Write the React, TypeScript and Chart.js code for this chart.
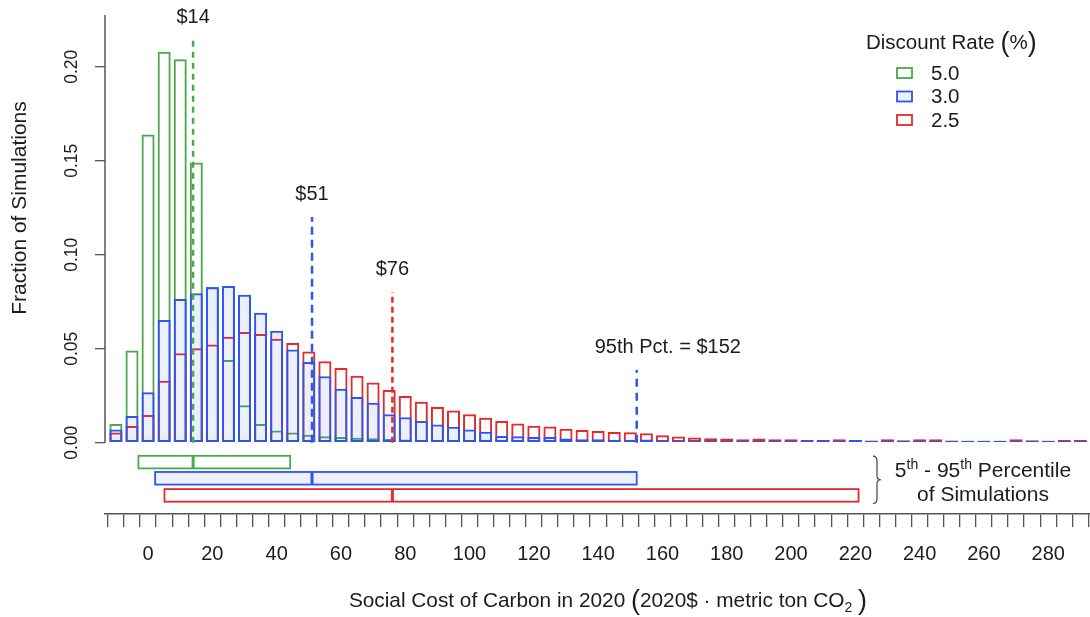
import React, { useEffect, useRef } from 'react';
import { Chart, registerables } from 'chart.js';

Chart.register(...registerables);

// ---------- DATA ----------
const binCenters = [
  -10, -5, 0, 5, 10, 15, 20, 25, 30, 35, 40, 45, 50, 55, 60, 65, 70, 75, 80, 85,
  90, 95, 100, 105, 110, 115, 120, 125, 130, 135, 140, 145, 150, 155, 160, 165, 170, 175, 180, 185,
  190, 195, 200, 205, 210, 215, 220, 225, 230, 235, 240, 245, 250, 255, 260, 265, 270, 275, 280, 285, 290,
];

const seriesNames = ['5.0', '3.0', '2.5'];

const frac50 = [
  0.010, 0.049, 0.164, 0.208, 0.204, 0.149, 0.083, 0.044, 0.020, 0.010,
  0.0065, 0.0055, 0.0043, 0.0034, 0.0030, 0.0027, 0.0024, 0.0020, 0.0017, 0.0015,
  0.0014, 0.0013, 0.0012, 0.0011, 0.0010, 0.0010, 0.0009, 0.0009, 0.0008, 0.0008,
  0.0008, 0.0007, 0.0007, 0.0007, 0.0006, 0.0006, 0.0006, 0.0005, 0.0005, 0.0005,
  0.0005, 0.0004, 0.0004, 0.0004, 0.0004, 0.0004, 0.0003, 0.0003, 0.0003, 0.0003,
  0.0003, 0.0003, 0.0003, 0.0002, 0.0002, 0.0002, 0.0002, 0.0002, 0.0002, 0.0002, 0.0002,
];

const frac30 = [
  0.0071, 0.0142, 0.0268, 0.0653, 0.0764, 0.0795, 0.0827, 0.0834, 0.0787, 0.0692,
  0.0595, 0.0496, 0.0429, 0.0353, 0.0287, 0.0243, 0.0213, 0.0151, 0.0136, 0.0115,
  0.0097, 0.0085, 0.0071, 0.0059, 0.0036, 0.0034, 0.0031, 0.0030, 0.0023, 0.0019,
  0.0018, 0.0016, 0.0016, 0.0017, 0.0013, 0.0012, 0.0011, 0.0011, 0.0010, 0.0010,
  0.0010, 0.0010, 0.0010, 0.0013, 0.0013, 0.0011, 0.0014, 0.0010, 0.0010, 0.0010,
  0.0010, 0.0010, 0.0010, 0.0010, 0.0010, 0.0010, 0.0010, 0.0010, 0.0010, 0.0010, 0.0010,
];

const frac25 = [
  0.0055, 0.0089, 0.0147, 0.0330, 0.0476, 0.0502, 0.0523, 0.0564, 0.0589, 0.0578,
  0.0553, 0.0530, 0.0485, 0.0434, 0.0397, 0.0356, 0.0320, 0.0281, 0.0249, 0.0218,
  0.0190, 0.0172, 0.0151, 0.0133, 0.0115, 0.0103, 0.0090, 0.0087, 0.0075, 0.0068,
  0.0062, 0.0057, 0.0056, 0.0050, 0.0040, 0.0033, 0.0028, 0.0024, 0.0023, 0.0019,
  0.0023, 0.0019, 0.0018, 0.0015, 0.0015, 0.0019, 0.0014, 0.0012, 0.0019, 0.0013,
  0.0018, 0.0019, 0.0012, 0.0011, 0.0011, 0.0011, 0.0018, 0.0013, 0.0011, 0.0014, 0.0014,
];

// 5th / median / 95th percentiles per discount rate (5.0, 3.0, 2.5)
const pct05 = [-3.0, 2.2, 5.1];
const pctMedian = [14, 51, 76];
const pct95 = [44.2, 152, 221];

// dashed marker lines: value and height (fraction)
const markerValues = [14, 51, 76, 152];
const markerTops = [0.214, 0.12, 0.08, 0.0387];
const markerLabels = ['$14', '$51', '$76', '95th Pct. = $152'];

const xTickLabels = [0, 20, 40, 60, 80, 100, 120, 140, 160, 180, 200, 220, 240, 260, 280];
const yTickValues = [0, 0.05, 0.1, 0.15, 0.2];

// ---------- STYLE ----------
const FONT = '"Liberation Sans", Arial, Helvetica, sans-serif';
const GREEN = 'rgb(72,170,72)';
const BLUE = 'rgb(45,85,242)';
const RED = 'rgb(228,42,42)';
const BLUE_FILL = 'rgba(70,100,235,0.10)';
const BLUE_FILL_SOLID = 'rgb(238,241,253)';
const TEXT = '#1c1c1c';
const AXIS = '#555';

const X_MIN = -13.4;
const X_MAX = 293;

type Run = { text: string; size: number; dy?: number };

function drawRuns(ctx: CanvasRenderingContext2D, runs: Run[], cx: number, baseline: number, align: 'center' | 'left' = 'center') {
  let total = 0;
  for (const r of runs) {
    ctx.font = `${r.size}px ${FONT}`;
    total += ctx.measureText(r.text).width;
  }
  let x = align === 'center' ? cx - total / 2 : cx;
  ctx.textAlign = 'left';
  ctx.textBaseline = 'alphabetic';
  for (const r of runs) {
    ctx.font = `${r.size}px ${FONT}`;
    ctx.fillText(r.text, x, baseline + (r.dy || 0));
    x += ctx.measureText(r.text).width;
  }
}

const colors = [GREEN, BLUE, RED];
const rowValues = [-0.0103, -0.0189, -0.028];

const overlayPlugin = {
  id: 'overlay',
  afterDraw(chart: any) {
    const ctx: CanvasRenderingContext2D = chart.ctx;
    const xs = chart.scales.x;
    const ys = chart.scales.y;
    const area = chart.chartArea;
    ctx.save();

    // y axis line
    ctx.strokeStyle = AXIS;
    ctx.lineWidth = 1.5;
    ctx.beginPath();
    ctx.moveTo(area.left, ys.getPixelForValue(0));
    ctx.lineTo(area.left, area.top);
    ctx.stroke();

    // marker labels
    ctx.fillStyle = TEXT;
    markerLabels.forEach((lab, i) => {
      const px = xs.getPixelForValue(markerValues[i]);
      const py = ys.getPixelForValue(markerTops[i]) - 17;
      ctx.font = `20px ${FONT}`;
      ctx.textBaseline = 'alphabetic';
      if (i === 3) {
        ctx.textAlign = 'left';
        ctx.fillText(lab, px - 42, py);
      } else {
        ctx.textAlign = 'center';
        ctx.fillText(lab, px, py);
      }
    });

    // percentile boxes
    const halfH = 6.3;
    for (let i = 0; i < 3; i++) {
      const x0 = xs.getPixelForValue(pct05[i]);
      const x1 = xs.getPixelForValue(pct95[i]);
      const yc = ys.getPixelForValue(rowValues[i]);
      ctx.fillStyle = i === 1 ? BLUE_FILL_SOLID : '#ffffff';
      ctx.fillRect(x0, yc - halfH, x1 - x0, halfH * 2);
      ctx.strokeStyle = colors[i];
      ctx.lineWidth = 1.8;
      ctx.strokeRect(x0, yc - halfH, x1 - x0, halfH * 2);
      const xm = xs.getPixelForValue(pctMedian[i]);
      ctx.lineWidth = 3;
      ctx.beginPath();
      ctx.moveTo(xm, yc - halfH);
      ctx.lineTo(xm, yc + halfH);
      ctx.stroke();
    }

    // brace
    const bx = 873;
    const bTop = ys.getPixelForValue(rowValues[0]) - 6;
    const bBot = ys.getPixelForValue(rowValues[2]) + 8;
    const bMid = (bTop + bBot) / 2;
    ctx.strokeStyle = '#444';
    ctx.lineWidth = 1.2;
    ctx.beginPath();
    ctx.moveTo(bx, bTop);
    ctx.quadraticCurveTo(bx + 4, bTop, bx + 4, bTop + 5);
    ctx.lineTo(bx + 4, bMid - 4);
    ctx.quadraticCurveTo(bx + 4, bMid, bx + 8, bMid);
    ctx.quadraticCurveTo(bx + 4, bMid, bx + 4, bMid + 4);
    ctx.lineTo(bx + 4, bBot - 5);
    ctx.quadraticCurveTo(bx + 4, bBot, bx, bBot);
    ctx.stroke();

    ctx.fillStyle = TEXT;
    drawRuns(ctx, [
      { text: '5', size: 21 },
      { text: 'th', size: 14, dy: -8 },
      { text: ' - 95', size: 21 },
      { text: 'th', size: 14, dy: -8 },
      { text: ' Percentile', size: 21 },
    ], 983, bMid - 3);
    drawRuns(ctx, [{ text: 'of Simulations', size: 21 }], 983, bMid + 21);

    // legend
    const lx = 866;
    drawRuns(ctx, [
      { text: 'Discount Rate ', size: 20.5 },
      { text: '(', size: 27, dy: 2 },
      { text: '%', size: 20.5 },
      { text: ')', size: 27, dy: 2 },
    ], lx, 49, 'left');
    const legY = [73, 96.5, 120];
    for (let i = 0; i < 3; i++) {
      ctx.fillStyle = i === 1 ? BLUE_FILL_SOLID : '#ffffff';
      ctx.fillRect(897, legY[i] - 5, 15, 10);
      ctx.strokeStyle = colors[i];
      ctx.lineWidth = 1.8;
      ctx.strokeRect(897, legY[i] - 5, 15, 10);
      ctx.fillStyle = TEXT;
      ctx.font = `20.5px ${FONT}`;
      ctx.textAlign = 'left';
      ctx.textBaseline = 'middle';
      ctx.fillText(seriesNames[i], 931, legY[i] + 1);
    }

    // axis titles
    ctx.fillStyle = TEXT;
    drawRuns(ctx, [
      { text: 'Social Cost of Carbon in 2020 ', size: 20.8 },
      { text: '(', size: 27, dy: 2 },
      { text: '2020$ · metric ton CO', size: 20.8 },
      { text: '2', size: 14, dy: 5 },
      { text: ' ', size: 20.8 },
      { text: ')', size: 27, dy: 2 },
    ], 608, 607);

    ctx.save();
    ctx.translate(20, 208);
    ctx.rotate(-Math.PI / 2);
    ctx.font = `21px ${FONT}`;
    ctx.textAlign = 'center';
    ctx.textBaseline = 'middle';
    ctx.fillText('Fraction of Simulations', 0, 0);
    ctx.restore();

    ctx.restore();
  },
};

function App() {
  const ref = useRef<HTMLCanvasElement | null>(null);

  useEffect(() => {
    const canvas = ref.current;
    if (!canvas) return;
    document.body.style.margin = '0';

    const binEdges = binCenters.map((c) => c - 2.5).concat([binCenters[binCenters.length - 1] + 2.5]);

    const barCommon = {
      type: 'bar' as const,
      grouped: false,
      barPercentage: 0.81,
      categoryPercentage: 1,
      borderWidth: 2,
      borderSkipped: false as const,
    };

    const markerColors = [GREEN, BLUE, RED, BLUE];
    const markerDash = [[6, 5], [8, 5], [6, 4], [8, 6]];

    const lineSets = markerValues.map((v, i) => ({
      type: 'line' as const,
      label: 'marker' + i,
      data: [{ x: v, y: 0 }, { x: v, y: markerTops[i] }],
      borderColor: markerColors[i],
      borderWidth: 2.5,
      borderDash: markerDash[i],
      pointRadius: 0,
      fill: false,
      order: 0,
    }));

    const chart = new Chart(canvas, {
      type: 'bar',
      data: {
        datasets: [
          {
            ...barCommon,
            label: seriesNames[0],
            data: binCenters.map((x, i) => ({ x, y: frac50[i] })),
            backgroundColor: 'rgba(0,0,0,0)',
            borderColor: GREEN,
            order: 3,
          },
          {
            ...barCommon,
            label: seriesNames[2],
            data: binCenters.map((x, i) => ({ x, y: frac25[i] })),
            backgroundColor: 'rgba(0,0,0,0)',
            borderColor: RED,
            order: 2,
          },
          {
            ...barCommon,
            label: seriesNames[1],
            data: binCenters.map((x, i) => ({ x, y: frac30[i] })),
            backgroundColor: BLUE_FILL,
            borderColor: BLUE,
            order: 1,
          },
          ...lineSets,
        ] as any,
      },
      options: {
        responsive: false,
        animation: false,
        layout: { padding: { top: 15, left: 0, right: 0, bottom: 0 } },
        plugins: {
          legend: { display: false },
          tooltip: { enabled: false },
          title: { display: false },
        },
        scales: {
          x: {
            type: 'linear',
            min: X_MIN,
            max: X_MAX,
            position: 'bottom',
            offset: false,
            weight: 0,
            grid: { display: true, offset: false, drawOnChartArea: false, drawTicks: true, tickLength: 13, color: '#555', lineWidth: 1.3 },
            border: { display: true, color: AXIS, width: 1.5 },
            ticks: { display: false },
            afterBuildTicks: (s: any) => {
              s.ticks = binEdges.map((v) => ({ value: v }));
            },
            afterFit: (s: any) => {
              s.paddingLeft = 0;
              s.paddingRight = 0;
            },
          },
          x2: {
            type: 'linear',
            min: X_MIN,
            max: X_MAX,
            position: 'bottom',
            offset: false,
            weight: 1,
            grid: { display: false, offset: false },
            border: { display: false },
            ticks: {
              display: true,
              autoSkip: false,
              maxRotation: 0,
              minRotation: 0,
              padding: 7,
              color: TEXT,
              font: { family: FONT, size: 20 },
              callback: (v: any) => String(v),
            },
            afterBuildTicks: (s: any) => {
              s.ticks = xTickLabels.map((v) => ({ value: v }));
            },
            afterFit: (s: any) => {
              s.height = 90;
              s.paddingLeft = 0;
              s.paddingRight = 0;
            },
          },
          y: {
            type: 'linear',
            min: -0.0379,
            max: 0.2275,
            position: 'left',
            grid: { display: true, drawOnChartArea: false, drawTicks: true, tickLength: 10, color: '#555', lineWidth: 1.3 },
            border: { display: false },
            ticks: {
              autoSkip: false,
              minRotation: 90,
              maxRotation: 90,
              crossAlign: 'center',
              padding: 6,
              color: TEXT,
              font: { family: FONT, size: 17.5 },
              callback: (v: any) => Number(v).toFixed(2),
            },
            afterBuildTicks: (s: any) => {
              s.ticks = yTickValues.map((v) => ({ value: v }));
            },
            afterFit: (s: any) => {
              s.width = 105;
              s.paddingTop = 0;
              s.paddingBottom = 0;
            },
          },
        },
      } as any,
      plugins: [overlayPlugin],
    });

    return () => {
      chart.destroy();
    };
  }, []);

  return (
    <div style={{ position: 'absolute', left: 0, top: 0, width: 1090, height: 617, background: '#fff' }}>
      <canvas ref={ref} width={1090} height={617} style={{ display: 'block', width: 1090, height: 617 }} />
    </div>
  );
}

export default App;
